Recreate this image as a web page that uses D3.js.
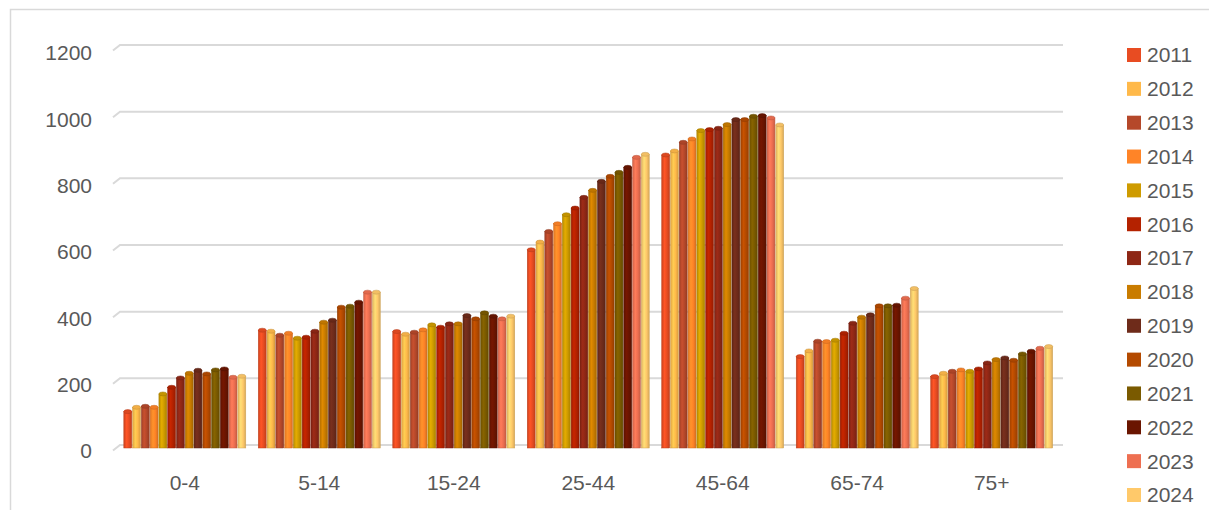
<!DOCTYPE html>
<html>
<head>
<meta charset="utf-8">
<script src="https://cdn.jsdelivr.net/npm/d3@7"></script>
<style>
  body { margin: 0; background: #ffffff; }
  text { font-family: "Liberation Sans", Arial, sans-serif; fill: #595959; }
</style>
</head>
<body>
<script>
// categories and series
var ageGroups = ["0-4", "5-14", "15-24", "25-44", "45-64", "65-74", "75+"];
var years = ["2011", "2012", "2013", "2014", "2015", "2016", "2017",
             "2018", "2019", "2020", "2021", "2022", "2023", "2024"];
var yearColors = ["#E84C22", "#FFB94A", "#B5482A", "#FF8427", "#CE9B00",
                  "#B42200", "#8E2715", "#C97C00", "#6E2B1A", "#B44A00",
                  "#7A5A00", "#6A1500", "#EE6F51", "#FFC96A"];
var yTicks = [0, 200, 400, 600, 800, 1000, 1200];

// values per age group, one per year 2011..2024
var group0to4 = [115, 128, 131, 128, 168, 188, 216, 230, 239, 228, 240, 243, 218, 221];
var group5to14 = [359, 356, 344, 350, 335, 338, 356, 383, 389, 428, 431, 443, 473, 473];
var group15to24 = [355, 347, 353, 360, 375, 368, 378, 378, 403, 393, 411, 401, 393, 401];
var group25to44 = [600, 623, 655, 678, 705, 725, 757, 778, 805, 820, 832, 847, 877, 886];
var group45to64 = [884, 896, 922, 932, 957, 960, 964, 975, 990, 990, 1000, 1002, 995, 974];
var group65to74 = [280, 297, 326, 325, 329, 350, 380, 398, 405, 432, 432, 434, 455, 484];
var group75plus = [220, 230, 236, 240, 236, 243, 261, 271, 276, 269, 288, 296, 305, 310];

var groupValues = [group0to4, group5to14, group15to24, group25to44,
                   group45to64, group65to74, group75plus];

window.onload = function() {
  /*
  set up the svg and draw everything
  */
  var width = 1209;
  var height = 510;

  svg = d3.select("body")
          .append("svg")
          .attr("width", width)
          .attr("height", height);

  // scales: bars sit slightly in front of the back wall
  var xScale = d3.scaleBand()
                 .domain(ageGroups)
                 .range([117.5, 1059])
                 .paddingInner(0.093)
                 .paddingOuter(0.047);
  var innerScale = d3.scaleBand()
                     .domain(years)
                     .range([0, xScale.bandwidth()])
                     .paddingInner(0.1);
  var barScale = d3.scaleLinear().domain([0, 1200]).range([448, 47.5]);
  var wallScale = d3.scaleLinear().domain([0, 1200]).range([445, 45]);
  var labelScale = d3.scaleLinear().domain([0, 1200]).range([451, 53]);

  drawFrame();
  drawGrid(wallScale, labelScale);
  drawBars(xScale, innerScale, barScale);
  drawLegend();
};


function drawFrame() {
  // light border of the chart area, only top and left are in view
  svg.append("path")
     .attr("d", "M10.5,510 L10.5,9.5 L1209,9.5")
     .attr("fill", "none")
     .attr("stroke", "#d9d9d9")
     .attr("stroke-width", 1.5);
};


function drawGrid(wallScale, labelScale) {
  /*
  gridlines on the back wall with a short slanted
  piece on the side wall, plus the y labels
  */
  svg.append("g")
     .selectAll("path")
     .data(yTicks)
     .enter()
     .append("path")
     .attr("d", function(d) {
       var y = wallScale(d);
       return "M113," + (y + 5.5) + " L120," + y + " L1063," + y;
     })
     .attr("fill", "none")
     .attr("stroke", "#d9d9d9")
     .attr("stroke-width", 2);

  svg.append("g")
     .selectAll("text")
     .data(yTicks)
     .enter()
     .append("text")
     .attr("x", 92)
     .attr("y", function(d) { return labelScale(d); })
     .attr("dy", "0.35em")
     .attr("text-anchor", "end")
     .style("font-size", "21px")
     .text(function(d) { return d; });
};


function drawBars(xScale, innerScale, barScale) {
  /*
  cylinder-like bars: shaded body plus an elliptic cap
  */
  var defs = svg.append("defs");
  yearColors.forEach(function(c, i) {
    var grad = defs.append("linearGradient")
                   .attr("id", "grad" + i)
                   .attr("x1", "0%").attr("x2", "100%")
                   .attr("y1", "0%").attr("y2", "0%");
    grad.append("stop").attr("offset", "0%")
        .attr("stop-color", d3.color(c).darker(0.35));
    grad.append("stop").attr("offset", "35%")
        .attr("stop-color", d3.color(c).brighter(0.3));
    grad.append("stop").attr("offset", "65%")
        .attr("stop-color", c);
    grad.append("stop").attr("offset", "100%")
        .attr("stop-color", d3.color(c).darker(0.5));
  });

  var bw = innerScale.bandwidth();
  var capRy = 2;

  var groups = svg.append("g")
                  .selectAll("g")
                  .data(ageGroups)
                  .enter()
                  .append("g")
                  .attr("transform", function(d) {
                    return "translate(" + xScale(d) + ",0)";
                  });

  var bars = groups.selectAll("g")
                   .data(function(d, gi) {
                     return years.map(function(yr, i) {
                       return {year: yr, index: i, value: groupValues[gi][i]};
                     });
                   })
                   .enter()
                   .append("g");

  bars.append("rect")
      .attr("x", function(d) { return innerScale(d.year); })
      .attr("y", function(d) { return barScale(d.value) + capRy; })
      .attr("width", bw)
      .attr("height", function(d) { return barScale(0) - barScale(d.value) - capRy; })
      .attr("fill", function(d) { return "url(#grad" + d.index + ")"; })
      .attr("stroke", function(d) { return d3.color(yearColors[d.index]).darker(0.6); })
      .attr("stroke-width", 0.5);

  bars.append("ellipse")
      .attr("cx", function(d) { return innerScale(d.year) + bw / 2; })
      .attr("cy", function(d) { return barScale(d.value) + capRy; })
      .attr("rx", bw / 2)
      .attr("ry", capRy)
      .attr("fill", function(d) { return d3.color(yearColors[d.index]).darker(0.15); })
      .attr("stroke", function(d) { return d3.color(yearColors[d.index]).darker(0.7); })
      .attr("stroke-width", 0.5);

  // category labels
  svg.append("g")
     .selectAll("text")
     .data(ageGroups)
     .enter()
     .append("text")
     .attr("x", function(d) { return xScale(d) + xScale.bandwidth() / 2; })
     .attr("y", 483)
     .attr("dy", "0.35em")
     .attr("text-anchor", "middle")
     .style("font-size", "21px")
     .text(function(d) { return d; });
};


function drawLegend() {
  // legend on the right, one row per year
  var legendScale = d3.scalePoint()
                      .domain(years)
                      .range([55, 495]);

  var rows = svg.append("g")
                .selectAll("g")
                .data(years)
                .enter()
                .append("g")
                .attr("transform", function(d) {
                  return "translate(1127," + legendScale(d) + ")";
                });

  rows.append("rect")
      .attr("x", 0)
      .attr("y", -7)
      .attr("width", 14)
      .attr("height", 14)
      .attr("fill", function(d, i) { return yearColors[i]; });

  rows.append("text")
      .attr("x", 20)
      .attr("y", 0)
      .attr("dy", "0.35em")
      .style("font-size", "21px")
      .text(function(d) { return d; });
};
</script>
</body>
</html>
